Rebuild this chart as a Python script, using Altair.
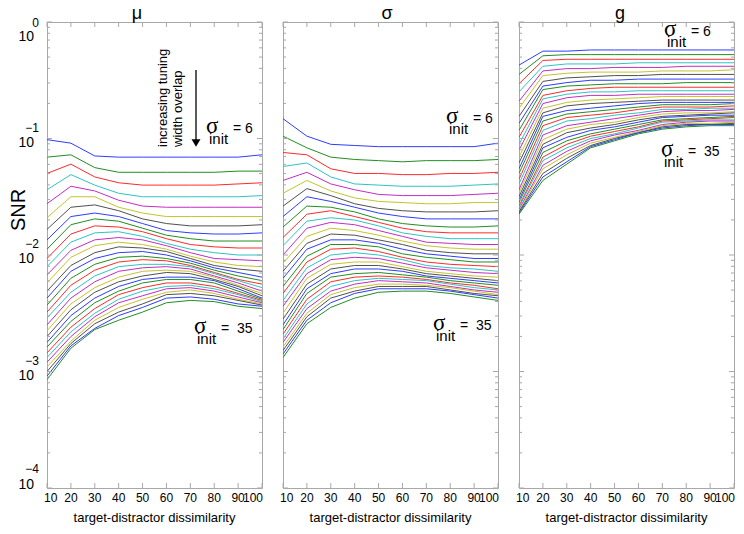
import altair as alt
import pandas as pd

# ---------------- data ----------------
dissimilarity = [10, 20, 30, 40, 50, 60, 70, 80, 90, 100]
sigma_init = list(range(6, 36))          # 30 curves, sigma_init = 6 ... 35

# log10(SNR), one row per sigma_init, one column per dissimilarity
mu_log10_snr = [
    [-1.01, -1.04, -1.15, -1.16, -1.16, -1.16, -1.16, -1.16, -1.16, -1.14],
    [-1.16, -1.14, -1.25, -1.29, -1.29, -1.29, -1.29, -1.29, -1.28, -1.28],
    [-1.30, -1.22, -1.33, -1.38, -1.40, -1.40, -1.40, -1.40, -1.39, -1.38],
    [-1.44, -1.31, -1.40, -1.47, -1.50, -1.50, -1.50, -1.50, -1.50, -1.49],
    [-1.56, -1.41, -1.45, -1.53, -1.58, -1.59, -1.59, -1.59, -1.59, -1.59],
    [-1.68, -1.50, -1.50, -1.59, -1.64, -1.67, -1.67, -1.67, -1.67, -1.67],
    [-1.78, -1.59, -1.57, -1.62, -1.69, -1.73, -1.75, -1.75, -1.75, -1.74],
    [-1.87, -1.67, -1.64, -1.67, -1.73, -1.79, -1.81, -1.82, -1.82, -1.81],
    [-1.95, -1.74, -1.69, -1.71, -1.77, -1.83, -1.86, -1.88, -1.88, -1.88],
    [-2.03, -1.82, -1.75, -1.76, -1.80, -1.86, -1.91, -1.93, -1.94, -1.94],
    [-2.10, -1.89, -1.81, -1.80, -1.84, -1.90, -1.95, -1.98, -2.00, -2.00],
    [-2.17, -1.96, -1.87, -1.85, -1.87, -1.92, -1.98, -2.03, -2.04, -2.05],
    [-2.24, -2.02, -1.92, -1.89, -1.91, -1.95, -2.01, -2.06, -2.09, -2.10],
    [-2.31, -2.09, -1.98, -1.93, -1.94, -1.97, -2.03, -2.09, -2.12, -2.14],
    [-2.37, -2.14, -2.03, -1.98, -1.97, -2.00, -2.05, -2.11, -2.15, -2.19],
    [-2.43, -2.20, -2.08, -2.02, -2.01, -2.03, -2.07, -2.13, -2.18, -2.22],
    [-2.49, -2.26, -2.13, -2.06, -2.04, -2.05, -2.09, -2.15, -2.21, -2.25],
    [-2.54, -2.32, -2.18, -2.10, -2.08, -2.08, -2.10, -2.16, -2.22, -2.28],
    [-2.60, -2.37, -2.23, -2.14, -2.11, -2.10, -2.12, -2.18, -2.24, -2.31],
    [-2.65, -2.42, -2.28, -2.19, -2.14, -2.13, -2.14, -2.19, -2.26, -2.33],
    [-2.70, -2.47, -2.32, -2.23, -2.18, -2.15, -2.16, -2.21, -2.27, -2.35],
    [-2.75, -2.52, -2.37, -2.27, -2.21, -2.19, -2.19, -2.22, -2.29, -2.37],
    [-2.79, -2.57, -2.41, -2.31, -2.24, -2.21, -2.21, -2.24, -2.31, -2.38],
    [-2.84, -2.62, -2.46, -2.34, -2.28, -2.24, -2.24, -2.27, -2.33, -2.39],
    [-2.88, -2.66, -2.50, -2.38, -2.31, -2.27, -2.26, -2.29, -2.34, -2.40],
    [-2.92, -2.70, -2.53, -2.41, -2.35, -2.29, -2.28, -2.31, -2.36, -2.41],
    [-2.96, -2.74, -2.56, -2.45, -2.38, -2.32, -2.30, -2.33, -2.38, -2.42],
    [-3.00, -2.76, -2.59, -2.49, -2.42, -2.34, -2.33, -2.35, -2.39, -2.43],
    [-3.04, -2.78, -2.63, -2.52, -2.45, -2.37, -2.36, -2.38, -2.42, -2.44],
    [-3.07, -2.80, -2.64, -2.56, -2.49, -2.41, -2.39, -2.40, -2.44, -2.46],
]

sigma_log10_snr = [
    [-0.83, -0.98, -1.05, -1.06, -1.07, -1.07, -1.07, -1.07, -1.07, -1.04],
    [-0.98, -1.08, -1.16, -1.18, -1.19, -1.20, -1.19, -1.19, -1.19, -1.18],
    [-1.12, -1.14, -1.26, -1.30, -1.30, -1.31, -1.31, -1.30, -1.30, -1.29],
    [-1.24, -1.21, -1.33, -1.39, -1.40, -1.41, -1.41, -1.41, -1.40, -1.39],
    [-1.36, -1.29, -1.39, -1.44, -1.48, -1.49, -1.49, -1.49, -1.48, -1.47],
    [-1.47, -1.36, -1.45, -1.51, -1.54, -1.55, -1.56, -1.56, -1.55, -1.55],
    [-1.58, -1.43, -1.49, -1.56, -1.60, -1.62, -1.63, -1.63, -1.63, -1.62],
    [-1.67, -1.50, -1.54, -1.59, -1.64, -1.67, -1.69, -1.69, -1.69, -1.69],
    [-1.76, -1.58, -1.59, -1.63, -1.69, -1.73, -1.75, -1.76, -1.76, -1.75],
    [-1.85, -1.65, -1.62, -1.67, -1.72, -1.77, -1.80, -1.81, -1.81, -1.81],
    [-1.92, -1.71, -1.68, -1.70, -1.75, -1.81, -1.84, -1.86, -1.86, -1.86],
    [-2.00, -1.77, -1.72, -1.74, -1.79, -1.84, -1.89, -1.90, -1.91, -1.91],
    [-2.07, -1.84, -1.77, -1.79, -1.83, -1.88, -1.92, -1.94, -1.95, -1.95],
    [-2.14, -1.90, -1.82, -1.83, -1.87, -1.91, -1.96, -1.98, -1.99, -1.99],
    [-2.20, -1.95, -1.87, -1.87, -1.90, -1.95, -1.99, -2.01, -2.03, -2.03],
    [-2.27, -2.01, -1.91, -1.91, -1.93, -1.99, -2.02, -2.04, -2.06, -2.06],
    [-2.33, -2.06, -1.95, -1.94, -1.97, -2.02, -2.06, -2.08, -2.09, -2.10],
    [-2.39, -2.11, -2.00, -1.98, -2.00, -2.04, -2.09, -2.11, -2.12, -2.14],
    [-2.44, -2.16, -2.04, -2.02, -2.03, -2.07, -2.11, -2.13, -2.15, -2.16],
    [-2.50, -2.20, -2.08, -2.06, -2.06, -2.10, -2.14, -2.16, -2.18, -2.19],
    [-2.55, -2.25, -2.12, -2.09, -2.09, -2.12, -2.16, -2.18, -2.20, -2.22],
    [-2.60, -2.29, -2.16, -2.12, -2.12, -2.14, -2.18, -2.20, -2.22, -2.24],
    [-2.64, -2.33, -2.19, -2.16, -2.15, -2.17, -2.19, -2.22, -2.24, -2.26],
    [-2.68, -2.38, -2.23, -2.19, -2.18, -2.19, -2.21, -2.24, -2.26, -2.29],
    [-2.72, -2.42, -2.27, -2.22, -2.20, -2.21, -2.22, -2.25, -2.28, -2.30],
    [-2.75, -2.46, -2.31, -2.25, -2.22, -2.23, -2.24, -2.27, -2.30, -2.32],
    [-2.79, -2.50, -2.34, -2.28, -2.25, -2.25, -2.26, -2.28, -2.31, -2.34],
    [-2.82, -2.53, -2.37, -2.31, -2.27, -2.27, -2.27, -2.30, -2.33, -2.35],
    [-2.85, -2.56, -2.41, -2.33, -2.29, -2.29, -2.29, -2.31, -2.34, -2.37],
    [-2.88, -2.59, -2.45, -2.37, -2.32, -2.31, -2.31, -2.33, -2.36, -2.39],
]

g_log10_snr = [
    [-0.37, -0.25, -0.25, -0.24, -0.24, -0.24, -0.24, -0.24, -0.24, -0.24],
    [-0.45, -0.29, -0.28, -0.28, -0.28, -0.28, -0.28, -0.28, -0.28, -0.28],
    [-0.53, -0.33, -0.32, -0.32, -0.32, -0.32, -0.32, -0.32, -0.32, -0.32],
    [-0.60, -0.38, -0.36, -0.36, -0.36, -0.35, -0.35, -0.35, -0.35, -0.35],
    [-0.68, -0.42, -0.40, -0.40, -0.39, -0.39, -0.39, -0.38, -0.38, -0.38],
    [-0.74, -0.46, -0.44, -0.43, -0.43, -0.43, -0.42, -0.42, -0.42, -0.41],
    [-0.81, -0.51, -0.48, -0.47, -0.46, -0.46, -0.45, -0.45, -0.45, -0.45],
    [-0.87, -0.55, -0.52, -0.50, -0.50, -0.49, -0.49, -0.49, -0.49, -0.49],
    [-0.93, -0.58, -0.55, -0.54, -0.53, -0.53, -0.53, -0.52, -0.52, -0.52],
    [-0.99, -0.63, -0.59, -0.57, -0.56, -0.56, -0.56, -0.56, -0.56, -0.56],
    [-1.05, -0.66, -0.62, -0.60, -0.60, -0.59, -0.59, -0.59, -0.59, -0.59],
    [-1.10, -0.70, -0.65, -0.63, -0.63, -0.62, -0.62, -0.62, -0.62, -0.62],
    [-1.16, -0.74, -0.69, -0.67, -0.66, -0.65, -0.64, -0.64, -0.64, -0.64],
    [-1.21, -0.78, -0.72, -0.70, -0.69, -0.68, -0.67, -0.67, -0.67, -0.67],
    [-1.26, -0.81, -0.76, -0.74, -0.72, -0.70, -0.69, -0.69, -0.69, -0.69],
    [-1.30, -0.85, -0.79, -0.77, -0.75, -0.73, -0.71, -0.71, -0.71, -0.70],
    [-1.35, -0.89, -0.82, -0.80, -0.78, -0.75, -0.73, -0.73, -0.73, -0.72],
    [-1.39, -0.93, -0.85, -0.83, -0.80, -0.78, -0.75, -0.75, -0.74, -0.74],
    [-1.44, -0.97, -0.89, -0.86, -0.83, -0.80, -0.77, -0.76, -0.76, -0.75],
    [-1.47, -1.01, -0.92, -0.88, -0.86, -0.82, -0.79, -0.78, -0.78, -0.77],
    [-1.50, -1.05, -0.95, -0.91, -0.88, -0.84, -0.81, -0.80, -0.79, -0.78],
    [-1.53, -1.08, -0.99, -0.93, -0.90, -0.86, -0.82, -0.81, -0.80, -0.80],
    [-1.55, -1.12, -1.02, -0.96, -0.92, -0.88, -0.84, -0.83, -0.82, -0.81],
    [-1.58, -1.16, -1.05, -0.98, -0.94, -0.90, -0.85, -0.84, -0.83, -0.82],
    [-1.59, -1.19, -1.08, -1.00, -0.96, -0.91, -0.86, -0.85, -0.84, -0.84],
    [-1.61, -1.23, -1.11, -1.02, -0.97, -0.93, -0.88, -0.86, -0.85, -0.85],
    [-1.62, -1.26, -1.14, -1.04, -0.99, -0.94, -0.89, -0.87, -0.87, -0.86],
    [-1.63, -1.30, -1.17, -1.06, -1.00, -0.95, -0.90, -0.88, -0.88, -0.87],
    [-1.64, -1.33, -1.20, -1.07, -1.01, -0.95, -0.91, -0.89, -0.88, -0.88],
    [-1.65, -1.36, -1.22, -1.08, -1.02, -0.96, -0.92, -0.90, -0.89, -0.89],
]

panel_titles = ["\u03bc", "\u03c3", "g"]
x_tick_values = [10, 20, 30, 40, 50, 60, 70, 80, 90, 100]
y_tick_exponents = [0, -1, -2, -3, -4]
x_title = "target-distractor dissimilarity"
y_title = "SNR"
line_colors = ["#2f3cff", "#1f8f1f", "#ff2a2a", "#2cc4c4", "#c42cc4", "#c4c42c", "#505050"]

# ---------------- styling ----------------
W, H = 215, 466
GAP = 21
GRAY = "#a8a8a8"
FONT = "Liberation Sans"
SERIF = "Liberation Serif"

x_scale = alt.Scale(domain=[10, 100], nice=False, zero=False)
y_scale = alt.Scale(type="log", domain=[1e-4, 1], nice=False)
X_ENC = alt.X("d:Q", scale=x_scale, axis=None)
Y_ENC = alt.Y("snr:Q", scale=y_scale, axis=None)


def series_frame(values):
    rows = []
    for i, s in enumerate(sigma_init):
        for d, v in zip(dissimilarity, values[i]):
            rows.append({"d": d, "snr": 10 ** v, "sigma": s, "cidx": i % 7})
    return pd.DataFrame(rows)


def txt(text, x, y, size, font=FONT, align="left", baseline="alphabetic", angle=0):
    return alt.Chart(pd.DataFrame({"t": [text]})).mark_text(
        align=align, baseline=baseline, fontSize=size, font=font, angle=angle, color="black"
    ).encode(x=alt.value(x), y=alt.value(y), text="t:N")


def sigma_label(L, B, value):
    eq = "= " + value if len(value) == 1 else "=\u00a0\u00a0" + value
    return [
        txt("\u03c3", L, B, 23, font=SERIF),
        txt("init", L + 3, B + 11, 15),
        txt(eq, L + 27, B, 14),
    ]


xt_df = pd.DataFrame({"d": x_tick_values, "lab": [str(v) for v in x_tick_values]})
major_df = pd.DataFrame({"snr": [10.0 ** e for e in y_tick_exponents]})
minor_df = pd.DataFrame({"snr": [k * 10.0 ** e for e in y_tick_exponents[1:] for k in range(2, 10)]})
ylab_df = pd.DataFrame({
    "snr": [10.0 ** e for e in y_tick_exponents],
    "base": ["10"] * len(y_tick_exponents),
    "exp": [str(e).replace("-", "\u2212") for e in y_tick_exponents],
    "e": y_tick_exponents,
})


def tick_layers():
    layers = []
    for y0, y1 in [(H, H - 5), (0, 5)]:
        layers.append(alt.Chart(xt_df).mark_rule(color=GRAY, strokeWidth=1).encode(
            x=X_ENC, y=alt.value(y0), y2=alt.value(y1)))
    for df, ln in [(major_df, 5), (minor_df, 3)]:
        for x0, x1 in [(0, ln), (W, W - ln)]:
            layers.append(alt.Chart(df).mark_rule(color=GRAY, strokeWidth=1).encode(
                y=Y_ENC, x=alt.value(x0), x2=alt.value(x1)))
    return layers


def xlabel_layers():
    layers = []
    groups = [([10], "left", -3), (x_tick_values[1:-1], "center", 0), ([100], "right", 1)]
    for vals, align, dx in groups:
        layers.append(alt.Chart(xt_df).transform_filter(
            alt.FieldOneOfPredicate(field="d", oneOf=vals)
        ).mark_text(align=align, baseline="middle", fontSize=12, font=FONT, dx=dx, color="black").encode(
            x=X_ENC, y=alt.value(H + 10), text="lab:N"))
    layers.append(txt(x_title, W / 2, H + 30, 13, align="center", baseline="middle"))
    return layers


def ylabel_layers():
    layers = []
    groups = [([0], 15, 1), ([-1, -2, -3], 4, -11), ([-4], -3, -19)]
    for exps, dy_base, dy_exp in groups:
        base = alt.Chart(ylab_df).transform_filter(
            alt.FieldOneOfPredicate(field="e", oneOf=exps)
        ).mark_text(align="right", baseline="middle", fontSize=14, font=FONT, dy=dy_base, color="black").encode(
            y=Y_ENC, x=alt.value(-13), text="base:N")
        ex = alt.Chart(ylab_df).transform_filter(
            alt.FieldOneOfPredicate(field="e", oneOf=exps)
        ).mark_text(align="right", baseline="middle", fontSize=12, font=FONT, dy=dy_exp, color="black").encode(
            y=Y_ENC, x=alt.value(-8), text="exp:N")
        layers += [base, ex]
    layers.append(txt(y_title, -28, 188, 20, align="center", baseline="middle", angle=270))
    return layers


def panel(values, title, title_x, first, extras):
    lines = alt.Chart(series_frame(values)).mark_line(strokeWidth=1, clip=True).encode(
        x=X_ENC,
        y=Y_ENC,
        detail="sigma:N",
        color=alt.Color("cidx:N", scale=alt.Scale(domain=list(range(7)), range=line_colors), legend=None),
        order=alt.Order("sigma:Q"),
    )
    layers = [lines] + tick_layers() + xlabel_layers()
    if first:
        layers += ylabel_layers()
    layers.append(txt(title, title_x, -3.5, 18, align="center"))
    layers += extras
    return alt.layer(*layers).properties(width=W, height=H)


arrow = [
    alt.Chart(pd.DataFrame({"a": [0]})).mark_rule(color="black", strokeWidth=1.3).encode(
        x=alt.value(149), y=alt.value(48), y2=alt.value(120)),
    alt.Chart(pd.DataFrame({"a": [0]})).mark_point(shape="triangle-down", filled=True, size=80,
                                                    color="black", opacity=1).encode(
        x=alt.value(149), y=alt.value(121)),
    txt("increasing tuning", 116, 125, 13, angle=270, baseline="middle"),
    txt("width overlap", 131, 125, 13, angle=270, baseline="middle"),
]

p1 = panel(mu_log10_snr, panel_titles[0], 90, True,
           arrow + sigma_label(159, 111, "6") + sigma_label(147, 311, "35"))
p2 = panel(sigma_log10_snr, panel_titles[1], 104, False,
           sigma_label(163, 101, "6") + sigma_label(150, 308, "35"))
p3 = panel(g_log10_snr, panel_titles[2], 101, False,
           sigma_label(145, 14, "6") + sigma_label(142, 134, "35"))

chart = alt.hconcat(p1, p2, p3, spacing=GAP, bounds="flush").properties(
    padding={"left": 0, "top": -4, "right": 0, "bottom": 0},
    background="white",
).configure_view(stroke=GRAY, strokeWidth=1)

chart.save("out.html", embed_options={"renderer": "svg", "actions": False})
